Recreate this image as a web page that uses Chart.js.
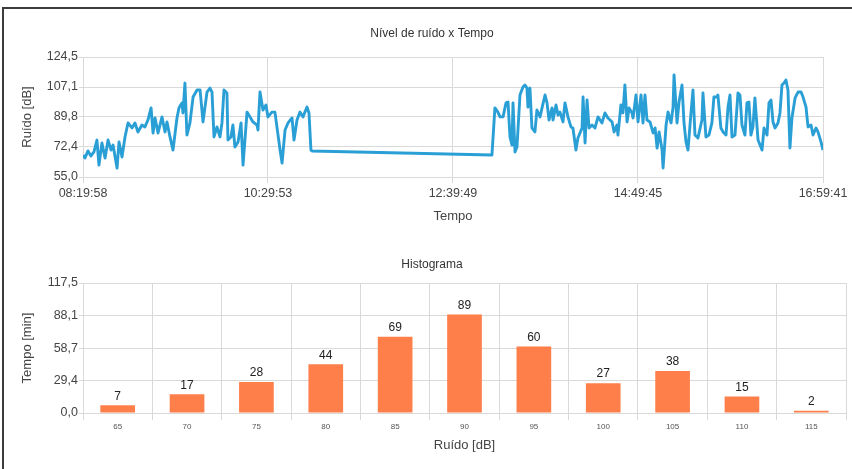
<!DOCTYPE html>
<html><head><meta charset="utf-8">
<script src="https://cdn.jsdelivr.net/npm/chart.js@4/dist/chart.umd.min.js"></script>
<style>
html,body{margin:0;padding:0;background:#fff;width:852px;height:469px;overflow:hidden;}
#frame{position:absolute;left:2px;top:7px;width:900px;height:520px;border-left:2px solid #3c3c3c;border-top:2px solid #3c3c3c;}
#w1{position:absolute;left:12px;top:10px;width:840px;height:217px;}
#w2{position:absolute;left:12px;top:240px;width:840px;height:218px;}
</style></head><body>
<div id="frame"></div>
<div id="w1"><canvas id="c1"></canvas></div>
<div id="w2"><canvas id="c2"></canvas></div>
<script>
// ---- data: noise level over time ----
const topTitle = 'Nível de ruído x Tempo';
const timeTicks = ['08:19:58', '10:29:53', '12:39:49', '14:49:45', '16:59:41'];
const noiseTicks = [55.0, 72.4, 89.8, 107.1, 124.5];
// minutes elapsed since 08:19:58
const minutes = [
  0, 1.4, 3.5, 5.6, 7.7, 9.8, 11.2, 13.3, 15.5, 17.6,
  19.7, 21.1, 23.9, 25.3, 27.4, 29.5, 31.6, 34.4, 36.5, 38.6,
  41.4, 43.5, 45.6, 47.8, 49.2, 50.6, 52.7, 55.5, 57.6, 59.0,
  61.1, 63.2, 66.0, 67.4, 69.5, 70.2, 71.6, 73.0, 75.1, 77.3,
  80.1, 82.2, 84.3, 87.1, 89.2, 90.6, 92.0, 94.1, 96.2, 97.6,
  99.0, 101.1, 101.8, 103.9, 105.3, 106.7, 108.9, 111.0, 112.4, 115.2,
  117.3, 119.4, 122.2, 122.9, 124.3, 126.4, 128.5, 129.9, 132.7, 134.8,
  136.2, 138.4, 139.8, 141.9, 144.0, 146.8, 148.2, 150.3, 152.4, 154.5,
  157.3, 158.7, 160.1, 160.8,
  287.2, 289.3, 291.4, 292.9, 295.0, 297.1, 298.5, 299.9, 301.3, 302.0,
  303.4, 304.8, 306.9, 309.0, 310.4, 311.8, 312.5, 313.9, 315.3, 317.4,
  318.8, 321.0, 322.4, 324.5, 325.9, 327.3, 329.4, 330.1, 332.2, 333.6,
  335.0, 337.1, 338.5, 340.6, 342.7, 344.1, 346.2, 347.6, 350.5, 351.2,
  352.6, 354.0, 355.4, 357.5, 359.6, 361.7, 364.5, 366.6, 368.7, 371.6,
  373.0, 375.0, 375.7, 377.8, 379.2, 380.6, 382.1, 383.5, 385.6, 386.3,
  388.4, 389.8, 391.9, 393.3, 394.7, 396.1, 398.2, 400.4, 401.8, 403.2,
  404.6, 406.7, 407.4, 409.5, 410.9, 413.0, 414.4, 415.1, 417.2, 418.6,
  420.7, 422.1, 423.5, 424.9, 427.0, 428.4, 429.8, 431.9, 434.7, 435.4,
  437.5, 439.6, 441.7, 443.1, 445.2, 445.9, 448.0, 449.5, 451.6, 453.0,
  454.4, 455.8, 457.9, 460.0, 461.4, 462.8, 464.9, 466.3, 467.7, 469.1,
  470.5, 471.9, 474.1, 475.5, 476.9, 478.3, 480.4, 481.8, 483.2, 484.6,
  486.0, 488.1, 489.5, 490.9, 492.3, 493.7, 495.1, 496.5, 497.9, 500.1,
  502.2, 504.3, 505.7, 507.8, 509.2, 511.3, 512.7, 514.8, 516.2, 518.3,
  519.7
];
const noise = [
  67.7, 66.0, 70.1, 67.2, 69.5, 76.4, 61.9, 74.7, 66.0, 76.4,
  70.6, 73.5, 60.2, 75.3, 66.6, 78.2, 86.3, 83.4, 86.3, 81.1,
  85.1, 84.0, 88.0, 95.0, 80.5, 89.2, 80.5, 89.8, 81.1, 86.9,
  78.2, 70.6, 89.2, 95.0, 97.9, 92.1, 109.4, 79.3, 86.3, 101.3,
  105.4, 105.4, 86.9, 104.2, 106.5, 104.2, 78.2, 84.0, 78.2, 86.3,
  105.4, 103.7, 76.4, 78.2, 85.1, 72.4, 75.3, 86.3, 61.9, 92.6,
  89.8, 86.9, 85.1, 82.2, 104.2, 93.8, 96.7, 89.8, 92.6, 92.6,
  84.0, 70.6, 63.1, 82.2, 86.3, 89.2, 76.4, 88.0, 92.6, 89.8,
  95.5, 92.1, 70.6, 70.1,
  67.7, 95.0, 92.6, 89.8, 89.8, 97.9, 98.4, 78.2, 73.5, 97.9,
  69.5, 72.4, 102.5, 107.1, 108.3, 106.5, 95.5, 106.5, 83.4, 81.1,
  93.8, 89.8, 95.0, 102.5, 97.9, 88.0, 95.0, 88.0, 96.7, 90.9,
  92.6, 86.9, 97.9, 89.8, 84.0, 83.4, 70.6, 77.6, 83.4, 101.3,
  74.7, 99.6, 83.4, 85.1, 83.4, 89.8, 86.3, 92.1, 89.2, 86.9,
  81.1, 85.1, 79.3, 96.7, 92.1, 108.3, 86.9, 95.0, 92.1, 89.2,
  102.5, 86.9, 102.5, 86.3, 102.5, 88.0, 86.9, 80.5, 83.4, 71.8,
  81.1, 70.6, 60.2, 85.1, 92.6, 86.3, 95.5, 114.1, 86.3, 98.4,
  108.3, 86.3, 75.3, 70.6, 92.1, 105.4, 79.3, 77.6, 88.0, 103.7,
  78.2, 79.3, 86.3, 101.3, 101.3, 102.5, 83.4, 81.1, 79.3, 95.5,
  102.5, 78.2, 79.3, 103.7, 102.5, 85.1, 79.3, 97.9, 98.4, 79.3,
  84.0, 100.8, 76.4, 73.5, 70.6, 83.4, 79.3, 97.9, 99.6, 86.9,
  83.4, 86.3, 92.1, 108.3, 109.4, 111.2, 105.4, 71.8, 89.2, 100.8,
  104.2, 104.2, 101.3, 95.5, 84.0, 85.1, 79.3, 83.4, 81.1, 75.3,
  70.6
];

// ---- data: histogram ----
const histTitle = 'Histograma';
const bins = ['65', '70', '75', '80', '85', '90', '95', '100', '105', '110', '115'];
const binMinutes = [7, 17, 28, 44, 69, 89, 60, 27, 38, 15, 2];
const minuteTicks = [0.0, 29.4, 58.7, 88.1, 117.5];

// ---- rendering ----
const FONT = '"Liberation Sans", Arial, sans-serif';
Chart.defaults.font.family = FONT;
const GRID = '#d9d9d9';
const fmt = v => v.toFixed(1).replace('.', ',');
const toMin = t => { const p = t.split(':').map(Number); return p[0] * 60 + p[1] + p[2] / 60; };
const t0 = toMin(timeTicks[0]);
const tickPos = timeTicks.map(t => toMin(t) - t0);

function dummyRight(w) {
  return {
    position: 'right', display: true,
    grid: { display: false, drawTicks: false }, border: { display: false },
    ticks: { display: false },
    afterFit: s => { s.width = w; }
  };
}

new Chart(document.getElementById('c1'), {
  type: 'line',
  data: {
    datasets: [{
      data: minutes.map((m, i) => ({ x: m, y: noise[i] })),
      borderColor: '#2a9fd6', borderWidth: 2.9, pointRadius: 0, tension: 0,
      fill: false, borderJoinStyle: 'round', yAxisID: 'y'
    }]
  },
  options: {
    responsive: true, maintainAspectRatio: false, animation: false, devicePixelRatio: 1,
    layout: { padding: 0 },
    plugins: {
      legend: { display: false }, tooltip: { enabled: false },
      title: {
        display: true, text: topTitle, color: '#333',
        font: { size: 12, weight: 'normal', lineHeight: 1.2 },
        padding: { top: 16.8, bottom: 15.8 }
      }
    },
    scales: {
      x: {
        type: 'linear', min: tickPos[0], max: tickPos[tickPos.length - 1],
        afterBuildTicks: s => { s.ticks = tickPos.map(v => ({ value: v })); },
        afterFit: s => { s.height = 50; },
        ticks: { autoSkip: false, maxRotation: 0, color: '#444', font: { size: 12.5 }, padding: 3,
                 callback: (v, i) => timeTicks[i] },
        grid: { color: GRID, tickLength: 6 },
        border: { color: GRID },
        title: { display: true, text: 'Tempo', color: '#444', font: { size: 13 }, padding: { top: 0, bottom: 3.2 } }
      },
      y: {
        min: noiseTicks[0], max: noiseTicks[noiseTicks.length - 1],
        afterBuildTicks: s => { s.ticks = noiseTicks.map(v => ({ value: v })); },
        afterFit: s => { s.width = 71; },
        ticks: { color: '#444', font: { size: 12.5 }, padding: 1, callback: v => fmt(v) },
        grid: { color: GRID, tickLength: 4 },
        border: { color: GRID },
        title: { display: true, text: 'Ruído [dB]', color: '#444', font: { size: 13 }, padding: { top: 8, bottom: 0 } }
      },
      yR: dummyRight(29)
    }
  }
});

const valueLabels = {
  id: 'valueLabels',
  afterDatasetsDraw(chart) {
    const ctx = chart.ctx;
    const meta = chart.getDatasetMeta(0);
    const vals = chart.data.datasets[0].data;
    ctx.save();
    ctx.font = '12px ' + FONT;
    ctx.fillStyle = '#222';
    ctx.textAlign = 'center';
    ctx.textBaseline = 'bottom';
    meta.data.forEach((bar, i) => { ctx.fillText(String(vals[i]), bar.x, bar.y - 3); });
    ctx.restore();
  }
};

new Chart(document.getElementById('c2'), {
  type: 'bar',
  data: {
    labels: bins,
    datasets: [{ data: binMinutes, backgroundColor: '#ff7f4b', barPercentage: 0.5, categoryPercentage: 1, yAxisID: 'y' }]
  },
  options: {
    responsive: true, maintainAspectRatio: false, animation: false, devicePixelRatio: 1,
    layout: { padding: 0 },
    plugins: {
      legend: { display: false }, tooltip: { enabled: false },
      title: {
        display: true, text: histTitle, color: '#333',
        font: { size: 12, weight: 'normal', lineHeight: 1.2 },
        padding: { top: 17.8, bottom: 10.8 }
      }
    },
    scales: {
      x: {
        afterFit: s => { s.height = 45; },
        ticks: { color: '#555', font: { size: 8 }, padding: 2, maxRotation: 0, autoSkip: false },
        grid: { color: GRID, tickLength: 7, offset: true },
        border: { color: GRID },
        title: { display: true, text: 'Ruído [dB]', color: '#444', font: { size: 13 }, padding: { top: 0, bottom: 5.2 } }
      },
      y: {
        min: minuteTicks[0], max: minuteTicks[minuteTicks.length - 1],
        afterBuildTicks: s => { s.ticks = minuteTicks.map(v => ({ value: v })); },
        afterFit: s => { s.width = 71; },
        ticks: { color: '#444', font: { size: 12.5 }, padding: 1, callback: v => fmt(v) },
        grid: { color: GRID, tickLength: 4 },
        border: { color: GRID },
        title: { display: true, text: 'Tempo [min]', color: '#444', font: { size: 13 }, padding: { top: 8, bottom: 0 } }
      },
      yR: dummyRight(6)
    }
  },
  plugins: [valueLabels]
});
</script>
</body></html>
